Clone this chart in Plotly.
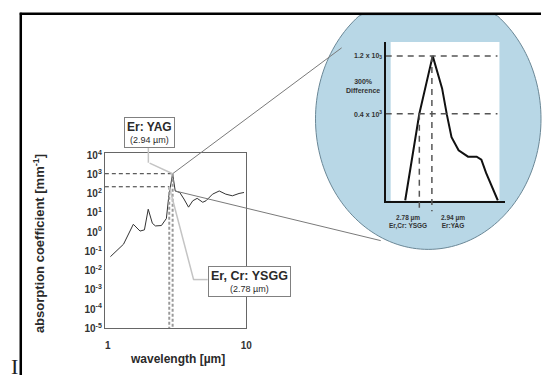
import numpy as np
import plotly.graph_objects as go

W, H = 547, 381


def px(x):
    return x / W


def py(y):
    return 1 - y / H


# ---------------- data ----------------
# main water absorption spectrum (log-log)
wavelength = [1.045, 1.30, 1.53, 1.71, 1.84, 1.96, 2.10, 2.21, 2.44, 2.65, 2.76, 2.94,
              3.07, 3.31, 3.55, 3.83, 4.11, 4.42, 4.85, 5.12, 5.71, 6.38, 7.11, 7.94, 8.87, 9.63]
absorption = [0.053, 0.236, 2.57, 1.14, 1.32, 15.6, 2.88, 2.11, 2.21, 5.16, 77.8, 1100,
              139, 116, 53, 20, 43, 57.5, 36, 43, 95, 139, 95, 78, 103, 116]

laser_wl = [2.78, 2.94]          # Er,Cr:YSGG , Er:YAG
laser_abs_main = [230, 1100]     # levels read on main chart

# zoomed inset
inset_wl = [2.60, 2.78, 2.95, 3.07, 3.13, 3.19, 3.28, 3.40, 3.51, 3.57, 3.63, 3.78]
inset_abs = [77, 400, 1200, 647, 395, 256, 200, 177, 177, 167, 130, 77]
inset_levels = [400, 1200]
inset_level_labels = ["0.4 x 10<sup>3</sup>", "1.2 x 10<sub>3</sub>"]

y_tick_vals = [1e-5, 1e-4, 1e-3, 1e-2, 1e-1, 1e0, 1e1, 1e2, 1e3, 1e4]
y_tick_text = ["10<sup>-5</sup>", "10<sup>-4</sup>", "10<sup>-3</sup>", "10<sup>-2</sup>",
               "10<sup>-1</sup>", "10<sup>0</sup>", "10<sup>1</sup>", "10<sup>2</sup>",
               "10<sup>3</sup>", "10<sup>4</sup>"]
x_tick_vals = [1, 10]
x_tick_text = ["1", "10"]

FONT = "Liberation Sans, Arial, sans-serif"
DARK = "#2a2a2a"

fig = go.Figure()

# main curve
fig.add_trace(go.Scatter(x=wavelength, y=absorption, mode="lines",
                         line=dict(color="#333333", width=1), xaxis="x", yaxis="y",
                         hoverinfo="skip", showlegend=False))
# horizontal dashed levels (main)
for wl, lv in zip(laser_wl, laser_abs_main):
    fig.add_trace(go.Scatter(x=[10 ** -0.021, wl], y=[lv, lv], mode="lines",
                             line=dict(color="#333333", width=1, dash="4px,3px"),
                             xaxis="x", yaxis="y", hoverinfo="skip", showlegend=False))
# vertical dashed gray lines (main)
for wl, lv in zip(laser_wl, laser_abs_main):
    fig.add_trace(go.Scatter(x=[wl, wl], y=[lv, 1e-5], mode="lines",
                             line=dict(color="#9a9a9a", width=2, dash="3px,2px"),
                             xaxis="x", yaxis="y", hoverinfo="skip", showlegend=False))

# inset curve
fig.add_trace(go.Scatter(x=inset_wl, y=inset_abs, mode="lines",
                         line=dict(color="#111111", width=2), xaxis="x2", yaxis="y2",
                         hoverinfo="skip", showlegend=False))
for lv in inset_levels:
    fig.add_trace(go.Scatter(x=[2.352, 3.775], y=[lv, lv], mode="lines",
                             line=dict(color="#555555", width=1.5, dash="6px,5px"),
                             xaxis="x2", yaxis="y2", hoverinfo="skip", showlegend=False))
for wl, lv in zip(laser_wl, inset_levels):
    fig.add_trace(go.Scatter(x=[wl, wl], y=[lv, 10 ** 1.797], mode="lines",
                             line=dict(color="#555555", width=1.5, dash="6px,5px"),
                             xaxis="x2", yaxis="y3", hoverinfo="skip", showlegend=False))

# magnifier outline, clipped at the frame's top edge (decoration geometry)
t = np.linspace(0, 2 * np.pi, 181)
cx, cy, rx, ry = 433.0, 118.0, 114.0, 134.0
ex = cx + rx * np.cos(t)
ey = np.maximum(cy + ry * np.sin(t), 11.0)
ell_path = "M " + " L ".join(f"{px(a):.5f},{py(b):.5f}" for a, b in zip(ex, ey)) + " Z"

shapes = []
shapes.append(dict(type="path", xref="paper", yref="paper", path=ell_path,
                   fillcolor="#b8d7e6", line=dict(color="#6a8796", width=1), layer="below"))
# white inset background
shapes.append(dict(type="rect", xref="paper", yref="paper", x0=px(395), x1=px(505),
                   y0=py(202), y1=py(39), fillcolor="white", line=dict(width=0), layer="below"))
# frame lines
shapes.append(dict(type="line", xref="paper", yref="paper", x0=px(20), x1=1, y0=py(10), y1=py(10),
                   line=dict(color="black", width=2.5)))
shapes.append(dict(type="line", xref="paper", yref="paper", x0=px(21), x1=px(21), y0=py(9), y1=0,
                   line=dict(color="black", width=2.5)))
# leader straight parts
shapes.append(dict(type="line", xref="paper", yref="paper", x0=px(150), x1=px(150), y0=py(145), y1=py(163),
                   line=dict(color="#c4c4c4", width=1.5)))
shapes.append(dict(type="line", xref="paper", yref="paper", x0=px(196), x1=px(210), y0=py(283), y1=py(283),
                   line=dict(color="#c4c4c4", width=1.5)))

ann = []


def arrow(x, y, ax, ay, color, width):
    ann.append(dict(x=np.log10(x), y=np.log10(y), xref="x", yref="y", ax=ax, ay=ay,
                    text=" ", font=dict(size=1), showarrow=True, arrowhead=0,
                    arrowcolor=color, arrowwidth=width, standoff=0, startstandoff=0))


def label(x, y, text, size, color=DARK, **kw):
    d = dict(x=px(x), y=py(y), xref="paper", yref="paper", showarrow=False,
             xanchor="center", yanchor="middle", text=text,
             font=dict(family=FONT, size=size, color=color))
    d.update(kw)
    ann.append(d)


# connectors to magnifier
arrow(2.94, 1100, 170.5, -127, "#7a7a7a", 1)
arrow(3.07, 139, 207, 50, "#7a7a7a", 1)
# label leaders
arrow(2.94, 1100, -24.5, -11.3, "#c4c4c4", 1.5)
arrow(2.78, 230, 25, 95.3, "#c4c4c4", 1.5)

# label boxes
label(151.5, 131.5, "<span style='font-size:12px'><b>Er: YAG</b></span><br>(2.94 µm)", 9,
      bgcolor="white", bordercolor="#808080", borderwidth=1, borderpad=2)
label(252.5, 284.5, "<span style='font-size:12.5px'><b>Er, Cr: YSGG</b></span><br>(2.78 µm)", 9,
      bgcolor="white", bordercolor="#808080", borderwidth=1, borderpad=2)
# axis titles
label(39, 246, "<b>absorption coefficient [mm<sup>-1</sup>]</b>", 13, textangle=-90)
label(179, 365, "<b>wavelength [µm]</b>", 12)
# inset labels
for lv, lab in zip(inset_levels, inset_level_labels):
    ann.append(dict(x=px(388), y=np.log10(lv), xref="paper", yref="y2", showarrow=False,
                    xanchor="right", yanchor="middle", text="<b>" + lab + "</b>",
                    font=dict(family=FONT, size=7, color="#333333")))
label(367, 84, "<b>300%<br>Difference</b>", 7, "#333333")
label(413, 224, "<b>2.78 µm<br>Er,Cr: YSGG</b>", 6.5, "#333333")
label(458, 223, "<b>2.94 µm<br>Er:YAG</b>", 6.5, "#333333")
# stray glyph bottom-left
label(15, 372, "I", 22, "#222222", font=dict(family="Liberation Serif, serif", size=22, color="#222222"))

fig.update_layout(
    width=W, height=H, margin=dict(l=0, r=0, t=0, b=0),
    paper_bgcolor="white", plot_bgcolor="rgba(0,0,0,0)",
    showlegend=False, shapes=shapes, annotations=ann,
    xaxis=dict(type="log", domain=[px(106), px(249)], range=[-0.021, 1.0], anchor="y",
               showgrid=False, zeroline=False, showline=True, mirror=True,
               linecolor="#666666", linewidth=1, ticks="",
               tickvals=x_tick_vals, ticktext=x_tick_text, ticklabelstandoff=8,
               tickfont=dict(family=FONT, size=10, color="#333333", weight="bold")),
    yaxis=dict(type="log", domain=[py(333), py(153)], range=[-5, 4.12], anchor="x",
               showgrid=False, zeroline=False, showline=True, mirror=True,
               linecolor="#666666", linewidth=1, ticks="",
               tickvals=y_tick_vals, ticktext=y_tick_text,
               tickfont=dict(family=FONT, size=10, color="#333333", weight="bold")),
    xaxis2=dict(domain=[px(390), px(511)], range=[2.352, 3.876], anchor="y2",
                showgrid=False, zeroline=False, showline=True, linecolor="#111111",
                linewidth=2, showticklabels=False, ticks=""),
    yaxis2=dict(type="log", domain=[py(202), py(39)], range=[1.885, 3.194], anchor="x2",
                showgrid=False, zeroline=False, showline=True, linecolor="#111111",
                linewidth=2, showticklabels=False, ticks=""),
    yaxis3=dict(type="log", domain=[py(213), py(39)], range=[1.797, 3.194], anchor="x2",
                visible=False, showgrid=False, zeroline=False),
)

fig.write_html("out.html")
